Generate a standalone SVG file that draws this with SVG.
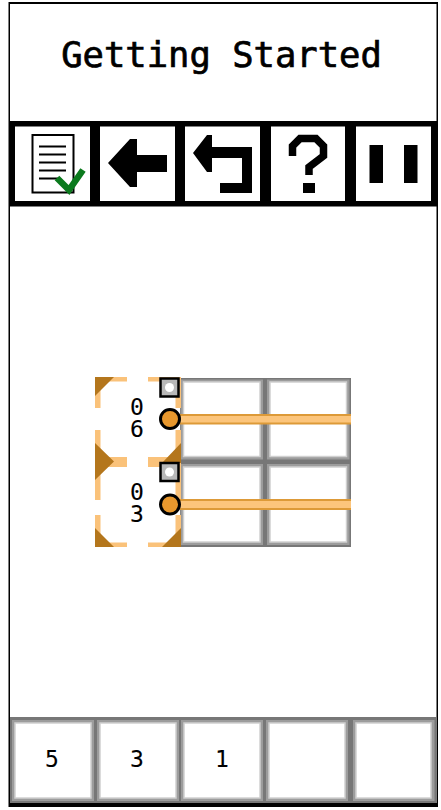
<svg xmlns="http://www.w3.org/2000/svg" width="441" height="810" viewBox="0 0 441 810">
<style>
text{font-family:"DejaVu Sans Mono","Liberation Mono",monospace;fill:#000;stroke:#000;text-anchor:middle}
.t{font-size:35.500px;stroke-width:.7px}
.d{font-size:23px;stroke-width:.1px}
.o{fill:#9c9c9c}
.i{fill:#fff;stroke:#d0d0d0;stroke-width:1.500}
.ln{fill:#fac27a}
.br{fill:#b4761c}
.sq{fill:#b8b8b8;stroke:#000;stroke-width:2.500}
.dot{fill:#e8982e;stroke:#000;stroke-width:3}
.bar{fill:#fcc57c}
.barE{fill:#dd9a38}
.w{fill:#fff}
.k{fill:#000}
</style>
<rect width="441" height="810" fill="#fff"/>
<g id="frame"><rect x="8.500" y="2" width="429.500" height="805" class="k"/><rect x="10" y="4" width="426.500" height="799" class="w"/></g>
<g id="title"><text class="t" x="221.500" y="67">Getting Started</text></g>
<g id="toolbar">
<rect x="10" y="121" width="427" height="85.500" class="k"/>
<g id="btn-doc"><rect x="15" y="126.500" width="75" height="74.500" class="w"/>
<rect x="32.500" y="135" width="41" height="57.500" fill="#fff" stroke="#000" stroke-width="2"/>
<path d="M39 146.500H66M39 154.500H66M39 162.500H66M39 170.500H66M39 178.500H60" stroke="#000" stroke-width="2" fill="none"/>
<path d="M57 178L69 190L83 170" fill="none" stroke="#0b7a1d" stroke-width="6.500"/></g>
<g id="btn-back"><rect x="100" y="126.500" width="75" height="74.500" class="w"/>
<path d="M108 163L130 139H137V155H167V172H137V187H130Z" class="k"/></g>
<g id="btn-undo"><rect x="185" y="126.500" width="75" height="74.500" class="w"/>
<path d="M193 153L207 135H212V147H252V193H220V183H242V158H212V172H207Z" class="k"/></g>
<g id="btn-help"><rect x="271" y="126.500" width="74" height="74.500" class="w"/>
<path d="M292.500 156V146L300 138.500H316L323.500 146V156L309 167V175" fill="none" stroke="#000" stroke-width="7.500"/>
<rect x="303" y="183" width="12" height="10" class="k"/></g>
<g id="btn-pause"><rect x="356" y="126.500" width="75" height="74.500" class="w"/>
<rect x="369.500" y="145" width="13.500" height="38" class="k"/><rect x="404" y="145" width="13.500" height="38" class="k"/></g>
</g>
<g id="grid">
<rect x="180" y="378" width="171" height="169" fill="#777"/>
<rect class="o" x="180.500" y="379.500" width="82.500" height="80"/><rect class="i" x="183.500" y="382" width="76.500" height="74.500"/>
<rect class="o" x="267" y="379.500" width="82.500" height="80"/><rect class="i" x="270" y="382" width="76.500" height="74.500"/>
<rect class="o" x="180.500" y="464" width="82.500" height="81"/><rect class="i" x="183.500" y="467" width="76.500" height="75"/>
<rect class="o" x="267" y="464" width="82.500" height="81"/><rect class="i" x="270" y="467" width="76.500" height="75"/>
</g>
<g id="brackets">
<path class="ln" d="M95 377H127V381.500H95ZM148 377H181V381.500H148ZM95 377H100.500V408H95ZM175.500 377H181V408H175.500ZM95 430H100.500V500H95ZM175.500 430H181V500H175.500ZM95 457H127V467H95ZM148 457H181V467H148ZM95 515H100.500V547H95ZM175.500 515H181V547H175.500ZM95 542.500H127V547H95ZM148 542.500H181V547H148Z"/>
<path class="br" d="M95 377H114L95 396ZM95 443L114 461.500L95 480ZM181 443V463H162ZM95 528L114 547H95ZM181 528V547H162Z"/>
</g>
<g id="pin-top">
<rect class="sq" x="160.500" y="378.500" width="18" height="18"/><circle cx="169.500" cy="387.500" r="4.500" class="w"/>
<rect class="barE" x="180" y="414" width="171" height="10.500"/><rect class="bar" x="180" y="416" width="171" height="6.500"/>
<circle class="dot" cx="170" cy="419" r="9.500"/>
<text class="d" x="137" y="415">0</text><text class="d" x="137" y="437">6</text>
</g>
<g id="pin-bottom">
<rect class="sq" x="160.500" y="463" width="18" height="18"/><circle cx="169.500" cy="472" r="4.500" class="w"/>
<rect class="barE" x="180" y="499" width="171" height="11"/><rect class="bar" x="180" y="501" width="171" height="7"/>
<circle class="dot" cx="170" cy="504.500" r="9.500"/>
<text class="d" x="137" y="500">0</text><text class="d" x="137" y="522">3</text>
</g>
<g id="keypad">
<rect x="10" y="717" width="426.500" height="86" fill="#777"/>
<rect class="o" x="12" y="720" width="82" height="81"/><rect class="i" x="15" y="723" width="76" height="75"/>
<rect class="o" x="97" y="720" width="82" height="81"/><rect class="i" x="100" y="723" width="76" height="75"/>
<rect class="o" x="181" y="720" width="82" height="81"/><rect class="i" x="184" y="723" width="76" height="75"/>
<rect class="o" x="266" y="720" width="82" height="81"/><rect class="i" x="269" y="723" width="76" height="75"/>
<rect class="o" x="353" y="720" width="81.500" height="81"/><rect class="i" x="356" y="723" width="75" height="75"/>
<text class="d" x="52" y="767">5</text><text class="d" x="137" y="767">3</text><text class="d" x="222" y="767">1</text>
</g>
</svg>
